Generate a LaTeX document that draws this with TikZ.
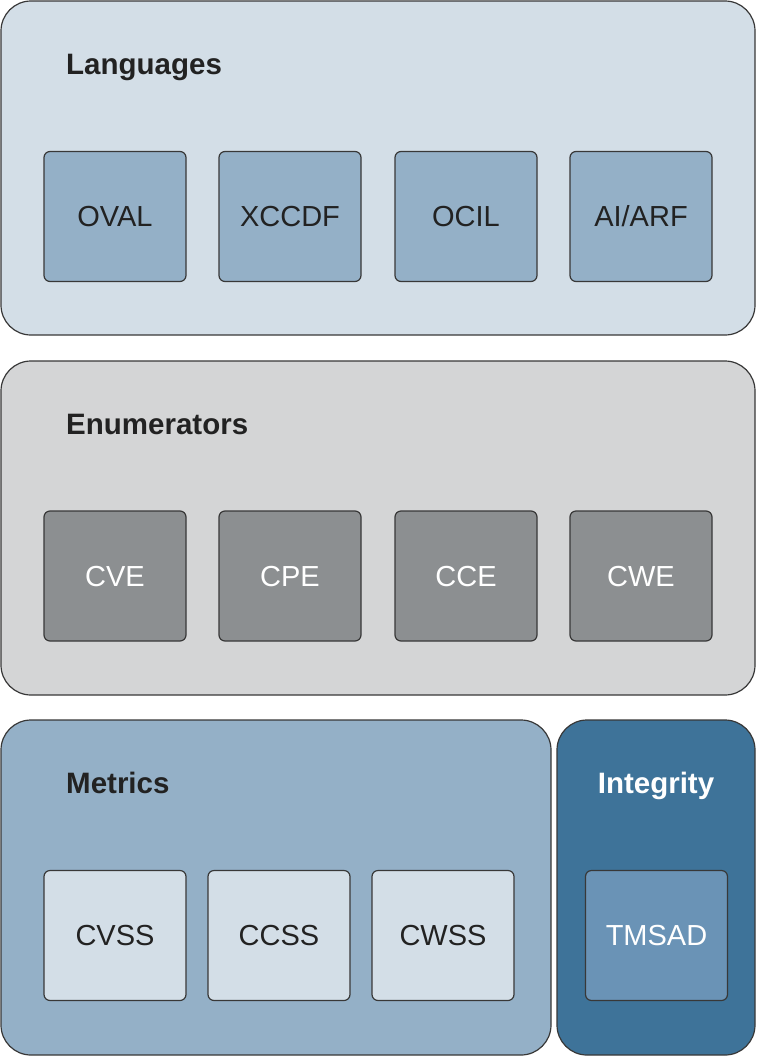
\documentclass[tikz,border=0pt]{standalone}
\usepackage{fontspec}
\setmainfont{Liberation Sans}
\begin{document}
\begin{tikzpicture}[x=1pt,y=-1pt,
  panel/.style={draw=black!78,line width=1.2pt,rounded corners=30pt},
  item/.style={draw=black!78,line width=1.2pt,rounded corners=6pt,minimum width=142pt,minimum height=130pt,inner sep=0pt,text height=20.8pt,text depth=0pt,font=\fontsize{29}{33}\selectfont},
  title/.style={anchor=base west,inner sep=0pt,font=\fontsize{29.5}{34}\selectfont\bfseries}]
\definecolor{lightpanel}{HTML}{D3DEE7}
\definecolor{midblue}{HTML}{94B0C7}
\definecolor{greypanel}{HTML}{D4D5D6}
\definecolor{darkgreybox}{HTML}{8C8F91}
\definecolor{deepblue}{HTML}{3E7399}
\definecolor{tmsadblue}{HTML}{6A93B6}
\definecolor{textdark}{HTML}{222222}
\useasboundingbox (0,0) rectangle (758,1058);
% Languages
\draw[panel,fill=lightpanel] (1,1) rectangle (755,335);
\node[title,text=textdark] (lang) at (66,74.5) {Languages};
\node[item,fill=midblue,text=textdark] (oval) at (115,216.5) {OVAL};
\node[item,fill=midblue,text=textdark] (xccdf) at (290,216.5) {XCCDF};
\node[item,fill=midblue,text=textdark] (ocil) at (466,216.5) {OCIL};
\node[item,fill=midblue,text=textdark] (aiarf) at (641,216.5) {AI/ARF};
% Enumerators
\draw[panel,fill=greypanel] (1,361) rectangle (755,695);
\node[title,text=textdark] (enum) at (66,434.5) {Enumerators};
\node[item,fill=darkgreybox,text=white] (cve) at (115,576) {CVE};
\node[item,fill=darkgreybox,text=white] (cpe) at (290,576) {CPE};
\node[item,fill=darkgreybox,text=white] (cce) at (466,576) {CCE};
\node[item,fill=darkgreybox,text=white] (cwe) at (641,576) {CWE};
% Metrics
\draw[panel,fill=midblue] (1,720) rectangle (551,1055);
\node[title,text=textdark] (metrics) at (66,793.5) {Metrics};
\node[item,fill=lightpanel,text=textdark] (cvss) at (115,935.5) {CVSS};
\node[item,fill=lightpanel,text=textdark] (ccss) at (279,935.5) {CCSS};
\node[item,fill=lightpanel,text=textdark] (cwss) at (443,935.5) {CWSS};
% Integrity
\draw[panel,fill=deepblue] (557,720) rectangle (755,1055);
\node[title,anchor=base,text=white] (integ) at (656,793.5) {Integrity};
\node[item,fill=tmsadblue,text=white] (tmsad) at (656.5,935.5) {TMSAD};
\end{tikzpicture}
\end{document}
